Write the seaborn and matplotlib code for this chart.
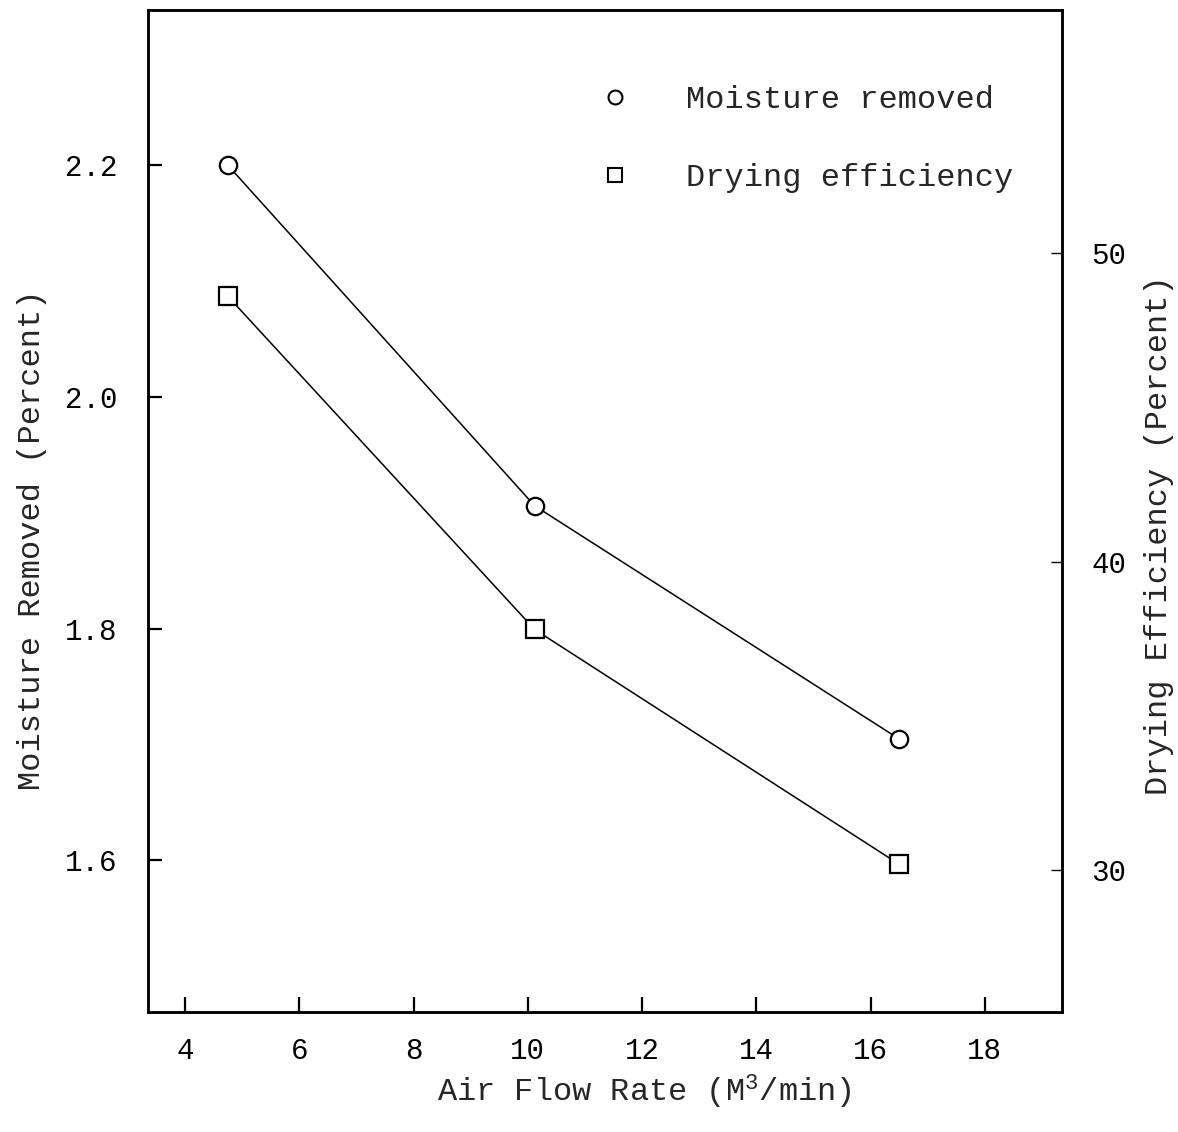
import numpy as np
import pandas as pd
import matplotlib as mpl
from matplotlib import pyplot as plt
from matplotlib.lines import Line2D
import seaborn as sns

# values
airflow = [4.75, 10.12, 16.49]
moisture_removed = [2.200, 1.906, 1.705]
drying_efficiency = [48.6, 37.8, 30.2]

xticks = [4, 6, 8, 10, 12, 14, 16, 18]
left_ticks = [1.6, 1.8, 2.0, 2.2]
right_ticks = [30, 40, 50]

sns.set_style("ticks")
plt.rcParams['font.family'] = ['Liberation Mono', 'DejaVu Sans']
plt.rcParams['mathtext.fontset'] = 'custom'
plt.rcParams['mathtext.rm'] = 'Liberation Mono'
plt.rcParams['mathtext.it'] = 'Liberation Mono'

df = pd.DataFrame({
    "airflow": airflow,
    "moisture": moisture_removed,
    "efficiency": drying_efficiency,
})

fig = plt.figure(figsize=(11.78, 11.32), dpi=100)
ax1 = fig.add_axes([148/1178, 1-1012/1132, (1062-148)/1178, (1012-10)/1132])
ax2 = ax1.twinx()

marker_kw = dict(color="black", linewidth=1.1, markersize=12.5,
                 markerfacecolor="white", markeredgecolor="black",
                 markeredgewidth=1.6)
sns.lineplot(data=df, x="airflow", y="moisture", marker="o", ax=ax1, **marker_kw)
sns.lineplot(data=df, x="airflow", y="efficiency", marker="s", ax=ax2, **marker_kw)

ax1.set_xlim(3.353, 19.35)
ax1.set_ylim(1.469, 2.334)
ax2.set_ylim(25.4, 57.88)

ax1.set_xticks(xticks)
ax1.set_yticks(left_ticks)
ax2.set_yticks(right_ticks)
ax1.set_xticklabels([str(t) for t in xticks])
ax1.set_yticklabels(["{:.1f}".format(t) for t in left_ticks])
ax2.set_yticklabels([str(t) for t in right_ticks])

ax1.tick_params(axis="x", direction="in", length=11, width=1.6, pad=18,
                labelsize=21, colors="black")
ax1.tick_params(axis="y", direction="in", length=10, width=1.6, pad=22,
                labelsize=21, colors="black")
ax2.tick_params(axis="y", direction="in", length=8, width=1.0, pad=21,
                labelsize=21, colors="black")

for ax in (ax1, ax2):
    for side in ("left", "right", "top", "bottom"):
        ax.spines[side].set_visible(True)
        ax.spines[side].set_linewidth(1.8)
        ax.spines[side].set_color("black")

ax1.set_xlabel(r"Air Flow Rate (M$^3$/min)", fontsize=23)
ax1.set_ylabel("Moisture Removed (Percent)", fontsize=23)
ax2.set_ylabel("Drying Efficiency (Percent)", fontsize=23)
ax1.xaxis.set_label_coords(0.543, -0.061)
ax1.yaxis.set_label_coords(-0.111, 0.471)
ax2.yaxis.set_label_coords(1.090, 0.476)

handles = [
    Line2D([0], [0], linestyle="none", marker="o", markersize=10,
           markerfacecolor="white", markeredgecolor="black", markeredgewidth=1.5),
    Line2D([0], [0], linestyle="none", marker="s", markersize=10,
           markerfacecolor="white", markeredgecolor="black", markeredgewidth=1.5),
]
ax2.legend(handles, ["Moisture removed", "Drying efficiency"],
           loc="upper left", bbox_to_anchor=(0.493, 0.925),
           frameon=False, fontsize=23, handlelength=1.0, handletextpad=1.75,
           labelspacing=1.5, borderpad=0, borderaxespad=0)

fig.savefig("out.png", dpi=100)
